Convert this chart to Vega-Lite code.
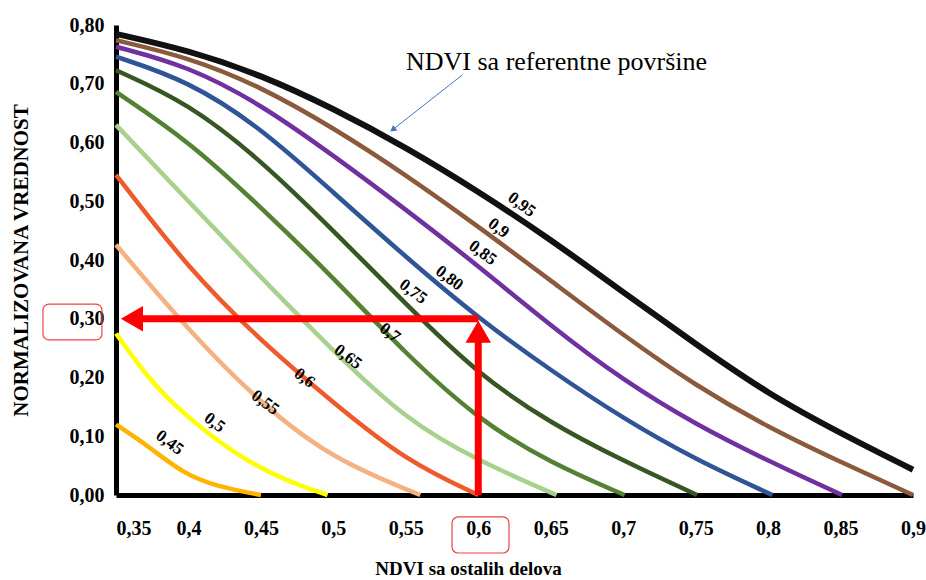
{
  "$schema": "https://vega.github.io/schema/vega-lite/v6.json",
  "width": 797,
  "height": 470,
  "autosize": {"type": "none"},
  "padding": {"left": 116, "top": 25, "right": 13, "bottom": 85},
  "background": "white",
  "config": {"view": {"stroke": null}, "font": "Liberation Serif"},
  "datasets": {
    "curves": [
      {"s": "0,95", "x": 0.35, "y": 0.785}, {"s": "0,95", "x": 0.40, "y": 0.757}, {"s": "0,95", "x": 0.45, "y": 0.715}, {"s": "0,95", "x": 0.50, "y": 0.658}, {"s": "0,95", "x": 0.55, "y": 0.592}, {"s": "0,95", "x": 0.60, "y": 0.517}, {"s": "0,95", "x": 0.65, "y": 0.435}, {"s": "0,95", "x": 0.70, "y": 0.345}, {"s": "0,95", "x": 0.75, "y": 0.257}, {"s": "0,95", "x": 0.80, "y": 0.172}, {"s": "0,95", "x": 0.85, "y": 0.105}, {"s": "0,95", "x": 0.90, "y": 0.043},
      {"s": "0,9", "x": 0.35, "y": 0.774}, {"s": "0,9", "x": 0.40, "y": 0.745}, {"s": "0,9", "x": 0.45, "y": 0.695}, {"s": "0,9", "x": 0.50, "y": 0.625}, {"s": "0,9", "x": 0.55, "y": 0.545}, {"s": "0,9", "x": 0.60, "y": 0.457}, {"s": "0,9", "x": 0.65, "y": 0.365}, {"s": "0,9", "x": 0.70, "y": 0.272}, {"s": "0,9", "x": 0.75, "y": 0.186}, {"s": "0,9", "x": 0.80, "y": 0.115}, {"s": "0,9", "x": 0.85, "y": 0.056}, {"s": "0,9", "x": 0.90, "y": 0.0},
      {"s": "0,85", "x": 0.35, "y": 0.763}, {"s": "0,85", "x": 0.40, "y": 0.73}, {"s": "0,85", "x": 0.45, "y": 0.665}, {"s": "0,85", "x": 0.50, "y": 0.578}, {"s": "0,85", "x": 0.55, "y": 0.486}, {"s": "0,85", "x": 0.60, "y": 0.39}, {"s": "0,85", "x": 0.65, "y": 0.288}, {"s": "0,85", "x": 0.70, "y": 0.195}, {"s": "0,85", "x": 0.75, "y": 0.12}, {"s": "0,85", "x": 0.80, "y": 0.058}, {"s": "0,85", "x": 0.851, "y": 0.0},
      {"s": "0,80", "x": 0.35, "y": 0.746}, {"s": "0,80", "x": 0.40, "y": 0.705}, {"s": "0,80", "x": 0.45, "y": 0.625}, {"s": "0,80", "x": 0.50, "y": 0.515}, {"s": "0,80", "x": 0.55, "y": 0.405}, {"s": "0,80", "x": 0.60, "y": 0.301}, {"s": "0,80", "x": 0.65, "y": 0.212}, {"s": "0,80", "x": 0.70, "y": 0.13}, {"s": "0,80", "x": 0.75, "y": 0.06}, {"s": "0,80", "x": 0.803, "y": 0.0},
      {"s": "0,75", "x": 0.35, "y": 0.723}, {"s": "0,75", "x": 0.40, "y": 0.667}, {"s": "0,75", "x": 0.45, "y": 0.57}, {"s": "0,75", "x": 0.50, "y": 0.45}, {"s": "0,75", "x": 0.55, "y": 0.325}, {"s": "0,75", "x": 0.60, "y": 0.205}, {"s": "0,75", "x": 0.65, "y": 0.122}, {"s": "0,75", "x": 0.70, "y": 0.058}, {"s": "0,75", "x": 0.751, "y": 0.0},
      {"s": "0,7", "x": 0.35, "y": 0.686}, {"s": "0,7", "x": 0.40, "y": 0.603}, {"s": "0,7", "x": 0.45, "y": 0.49}, {"s": "0,7", "x": 0.50, "y": 0.37}, {"s": "0,7", "x": 0.55, "y": 0.24}, {"s": "0,7", "x": 0.60, "y": 0.128}, {"s": "0,7", "x": 0.65, "y": 0.054}, {"s": "0,7", "x": 0.701, "y": 0.0},
      {"s": "0,65", "x": 0.35, "y": 0.63}, {"s": "0,65", "x": 0.40, "y": 0.50}, {"s": "0,65", "x": 0.45, "y": 0.37}, {"s": "0,65", "x": 0.50, "y": 0.245}, {"s": "0,65", "x": 0.55, "y": 0.128}, {"s": "0,65", "x": 0.60, "y": 0.058}, {"s": "0,65", "x": 0.654, "y": 0.0},
      {"s": "0,6", "x": 0.35, "y": 0.545}, {"s": "0,6", "x": 0.40, "y": 0.385}, {"s": "0,6", "x": 0.45, "y": 0.262}, {"s": "0,6", "x": 0.50, "y": 0.157}, {"s": "0,6", "x": 0.55, "y": 0.058}, {"s": "0,6", "x": 0.60, "y": 0.0},
      {"s": "0,55", "x": 0.35, "y": 0.426}, {"s": "0,55", "x": 0.40, "y": 0.28}, {"s": "0,55", "x": 0.45, "y": 0.155}, {"s": "0,55", "x": 0.50, "y": 0.06}, {"s": "0,55", "x": 0.56, "y": 0.0},
      {"s": "0,5", "x": 0.35, "y": 0.275}, {"s": "0,5", "x": 0.373, "y": 0.196}, {"s": "0,5", "x": 0.396, "y": 0.139}, {"s": "0,5", "x": 0.431, "y": 0.071}, {"s": "0,5", "x": 0.465, "y": 0.026}, {"s": "0,5", "x": 0.496, "y": 0.0},
      {"s": "0,45", "x": 0.35, "y": 0.12}, {"s": "0,45", "x": 0.373, "y": 0.082}, {"s": "0,45", "x": 0.396, "y": 0.037}, {"s": "0,45", "x": 0.42, "y": 0.014}, {"s": "0,45", "x": 0.45, "y": 0.0}
    ],
    "labels": [
      {"s": "0,95", "x": 0.630, "y": 0.494},
      {"s": "0,9", "x": 0.614, "y": 0.454},
      {"s": "0,85", "x": 0.603, "y": 0.412},
      {"s": "0,80", "x": 0.580, "y": 0.369},
      {"s": "0,75", "x": 0.555, "y": 0.346},
      {"s": "0,7", "x": 0.539, "y": 0.276},
      {"s": "0,65", "x": 0.510, "y": 0.235},
      {"s": "0,6", "x": 0.480, "y": 0.199},
      {"s": "0,55", "x": 0.453, "y": 0.157},
      {"s": "0,5", "x": 0.418, "y": 0.123},
      {"s": "0,45", "x": 0.387, "y": 0.089}
    ],
    "redlines": [
      {"x": 0.362, "y": 0.3, "x2": 0.6, "y2": 0.3},
      {"x": 0.6, "y": 0.0, "x2": 0.6, "y2": 0.28}
    ],
    "headleft": [{"x": 0.361, "y": 0.3}],
    "headup": [{"x": 0.6, "y": 0.278}],
    "bluearrow": [{"x": 0.589, "y": 0.715, "x2": 0.541, "y2": 0.622}],
    "bluehead": [{"x": 0.541, "y": 0.622}],
    "note": [{"x": 0.654, "y": 0.737, "t": "NDVI sa referentne površine"}],
    "boxes": [
      {"x": 0.2996, "x2": 0.3403, "y": 0.325, "y2": 0.264},
      {"x": 0.5819, "x2": 0.6212, "y": -0.0374, "y2": -0.0987}
    ]
  },
  "layer": [
    {
      "data": {"name": "curves"},
      "mark": {"type": "line", "interpolate": "basis"},
      "encoding": {
        "x": {
          "field": "x", "type": "quantitative",
          "scale": {"domain": [0.35, 0.9], "nice": false, "zero": false},
          "axis": {
            "title": "NDVI sa ostalih delova",
            "values": [0.35, 0.4, 0.45, 0.5, 0.55, 0.6, 0.65, 0.7, 0.75, 0.8, 0.85, 0.9],
            "labelExpr": "replace(format(datum.value, '.2~f'), '.', ',')",
            "domainColor": "black", "domainWidth": 5, "ticks": false, "grid": false,
            "labelFont": "Liberation Serif", "labelFontSize": 20, "labelFontWeight": "bold", "labelColor": "black",
            "labelPadding": 23, "labelFlush": false, "labelOverlap": false,
            "labelAlign": {"condition": {"test": "datum.value < 0.36", "value": "left"}, "value": "center"},
            "titleFont": "Liberation Serif", "titleFontSize": 19, "titleFontWeight": "bold", "titleColor": "black",
            "titleX": 352, "titleY": 73, "titleAlign": "center", "titleBaseline": "middle"
          }
        },
        "y": {
          "field": "y", "type": "quantitative",
          "scale": {"domain": [0, 0.8], "nice": false, "zero": false},
          "axis": {
            "title": "NORMALIZOVANA VREDNOST",
            "values": [0, 0.1, 0.2, 0.3, 0.4, 0.5, 0.6, 0.7, 0.8],
            "labelExpr": "replace(format(datum.value, '.2f'), '.', ',')",
            "domainColor": "black", "domainWidth": 5, "ticks": false, "grid": false,
            "labelFont": "Liberation Serif", "labelFontSize": 20, "labelFontWeight": "bold", "labelColor": "black",
            "labelPadding": 12, "labelOverlap": false,
            "titleFont": "Liberation Serif", "titleFontSize": 21, "titleFontWeight": "bold", "titleColor": "black",
            "titleX": -95, "titleY": 235, "titleAngle": 270, "titleAlign": "center", "titleBaseline": "middle"
          }
        },
        "color": {
          "field": "s", "type": "nominal", "legend": null,
          "scale": {
            "domain": ["0,45", "0,5", "0,55", "0,6", "0,65", "0,7", "0,75", "0,80", "0,85", "0,9", "0,95"],
            "range": ["#FFB400", "#FFFF00", "#F4B183", "#EE5A2A", "#A9D18E", "#548235", "#375623", "#2F5597", "#7030A0", "#8B5A3C", "#111111"]
          }
        },
        "strokeWidth": {"condition": {"test": "datum.s === '0,95'", "value": 6}, "value": 4.5}
      }
    },
    {
      "data": {"name": "labels"},
      "mark": {"type": "text", "angle": 37, "font": "Liberation Serif", "fontSize": 17, "fontWeight": "bold", "color": "black", "align": "center", "baseline": "middle"},
      "encoding": {
        "x": {"field": "x", "type": "quantitative"},
        "y": {"field": "y", "type": "quantitative"},
        "text": {"field": "s"}
      }
    },
    {
      "data": {"name": "redlines"},
      "mark": {"type": "rule", "color": "#FF0000", "strokeWidth": 7},
      "encoding": {
        "x": {"field": "x", "type": "quantitative"},
        "y": {"field": "y", "type": "quantitative"},
        "x2": {"field": "x2"},
        "y2": {"field": "y2"}
      }
    },
    {
      "data": {"name": "headleft"},
      "mark": {"type": "point", "shape": "triangle-left", "filled": true, "color": "#FF0000", "size": 650, "opacity": 1},
      "encoding": {
        "x": {"field": "x", "type": "quantitative"},
        "y": {"field": "y", "type": "quantitative"}
      }
    },
    {
      "data": {"name": "headup"},
      "mark": {"type": "point", "shape": "triangle-up", "filled": true, "color": "#FF0000", "size": 650, "opacity": 1},
      "encoding": {
        "x": {"field": "x", "type": "quantitative"},
        "y": {"field": "y", "type": "quantitative"}
      }
    },
    {
      "data": {"name": "bluearrow"},
      "mark": {"type": "rule", "color": "#4472C4", "strokeWidth": 1},
      "encoding": {
        "x": {"field": "x", "type": "quantitative"},
        "y": {"field": "y", "type": "quantitative"},
        "x2": {"field": "x2"},
        "y2": {"field": "y2"}
      }
    },
    {
      "data": {"name": "bluehead"},
      "mark": {"type": "point", "shape": "triangle-up", "angle": 232, "filled": true, "color": "#4472C4", "size": 50, "opacity": 1},
      "encoding": {
        "x": {"field": "x", "type": "quantitative"},
        "y": {"field": "y", "type": "quantitative"}
      }
    },
    {
      "data": {"name": "note"},
      "mark": {"type": "text", "font": "Liberation Serif", "fontSize": 26, "color": "black", "align": "center", "baseline": "middle"},
      "encoding": {
        "x": {"field": "x", "type": "quantitative"},
        "y": {"field": "y", "type": "quantitative"},
        "text": {"field": "t"}
      }
    },
    {
      "data": {"name": "boxes"},
      "mark": {"type": "rect", "filled": false, "color": "#EE4444", "strokeWidth": 1.2, "cornerRadius": 6},
      "encoding": {
        "x": {"field": "x", "type": "quantitative"},
        "x2": {"field": "x2"},
        "y": {"field": "y", "type": "quantitative"},
        "y2": {"field": "y2"}
      }
    }
  ]
}
